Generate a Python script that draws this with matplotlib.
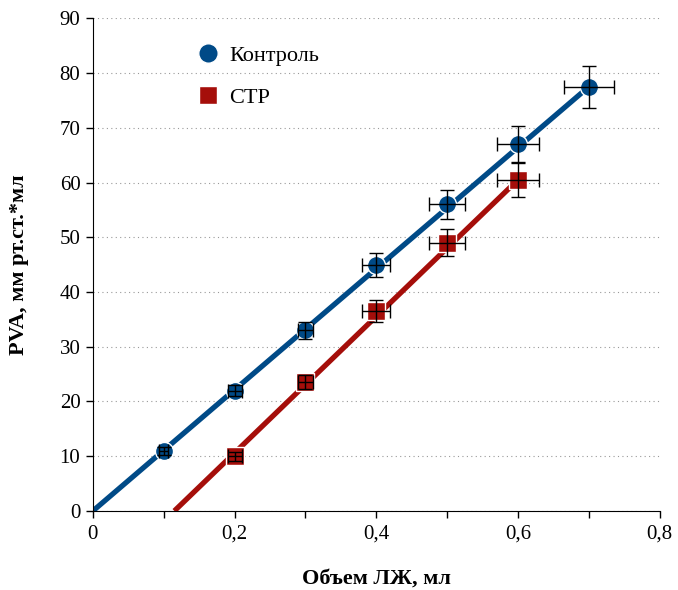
import matplotlib
matplotlib.use('Agg')
import matplotlib.pyplot as plt
from matplotlib.lines import Line2D
from matplotlib.ticker import MultipleLocator, FuncFormatter

# данные: объем ЛЖ (мл) и PVA (мм рт.ст.*мл)
ctrl_x = [0.1, 0.2, 0.3, 0.4, 0.5, 0.6, 0.7]
ctrl_y = [11, 22, 33, 45, 56, 67, 77.5]
ctrl_xerr = [0.006, 0.01, 0.01, 0.02, 0.025, 0.03, 0.035]
ctrl_yerr = [0.7, 1.0, 1.5, 2.2, 2.7, 3.3, 3.8]

ctp_x = [0.2, 0.3, 0.4, 0.5, 0.6]
ctp_y = [10, 23.5, 36.5, 49, 60.5]
ctp_xerr = [0.01, 0.01, 0.02, 0.025, 0.03]
ctp_yerr = [0.8, 1.3, 2.0, 2.5, 3.1]

# линии регрессии
ctrl_fit_x = [0.0, 0.7]
ctrl_fit_y = [0.0, 77.5]
ctp_fit_x = [0.115, 0.6]
ctp_fit_y = [0.0, 60.5]

BLUE = '#004a87'
RED = '#a50e0a'

plt.rcParams['font.family'] = ['Liberation Serif', 'DejaVu Serif']

fig = plt.figure(figsize=(6.78, 5.9), dpi=100)
ax = fig.add_axes([0.137, 0.134, 0.836, 0.835])

ax.plot(ctrl_fit_x, ctrl_fit_y, color=BLUE, lw=3.8, solid_capstyle='butt', zorder=2)
ax.plot(ctp_fit_x, ctp_fit_y, color=RED, lw=3.8, solid_capstyle='butt', zorder=2)

ax.plot(ctrl_x, ctrl_y, 'o', color=BLUE, ms=13, mec='white', mew=1, zorder=3)
ax.plot(ctp_x, ctp_y, 's', color=RED, ms=13, mec='white', mew=1, zorder=3)

ax.errorbar(ctrl_x, ctrl_y, xerr=ctrl_xerr, yerr=ctrl_yerr, fmt='none',
            ecolor='black', elinewidth=1, capsize=5, capthick=1, zorder=4)
ax.errorbar(ctp_x, ctp_y, xerr=ctp_xerr, yerr=ctp_yerr, fmt='none',
            ecolor='black', elinewidth=1, capsize=5, capthick=1, zorder=4)

ax.set_xlim(0, 0.8)
ax.set_ylim(0, 90)
ax.xaxis.set_major_locator(MultipleLocator(0.2))
ax.xaxis.set_minor_locator(MultipleLocator(0.1))
ax.yaxis.set_major_locator(MultipleLocator(10))
ax.xaxis.set_major_formatter(FuncFormatter(
    lambda v, p: '0' if abs(v) < 1e-9 else ('%.1f' % v).replace('.', ',')))

ax.tick_params(axis='both', which='both', direction='out', length=5, width=1, labelsize=15)
ax.tick_params(axis='x', pad=5)
ax.tick_params(axis='y', pad=4)
ax.yaxis.grid(True, linestyle=(0, (1, 3)), color='#999999', lw=0.8)
ax.set_axisbelow(True)
for s in ['top', 'right']:
    ax.spines[s].set_visible(False)

ax.set_xlabel('Объем ЛЖ, мл', fontsize=16, fontweight='bold', labelpad=18)
ax.set_ylabel('PVA, мм рт.ст.*мл', fontsize=16, fontweight='bold', labelpad=22)

handles = [
    Line2D([], [], marker='o', ls='none', color=BLUE, ms=14, mec='white'),
    Line2D([], [], marker='s', ls='none', color=RED, ms=13, mec='white'),
]
ax.legend(handles, ['Контроль', 'СТР'], loc='upper left', bbox_to_anchor=(0.148, 0.985),
          frameon=False, fontsize=16, labelspacing=0.95, handlelength=1.0,
          handletextpad=0.45)

fig.savefig('out.png', dpi=100)
